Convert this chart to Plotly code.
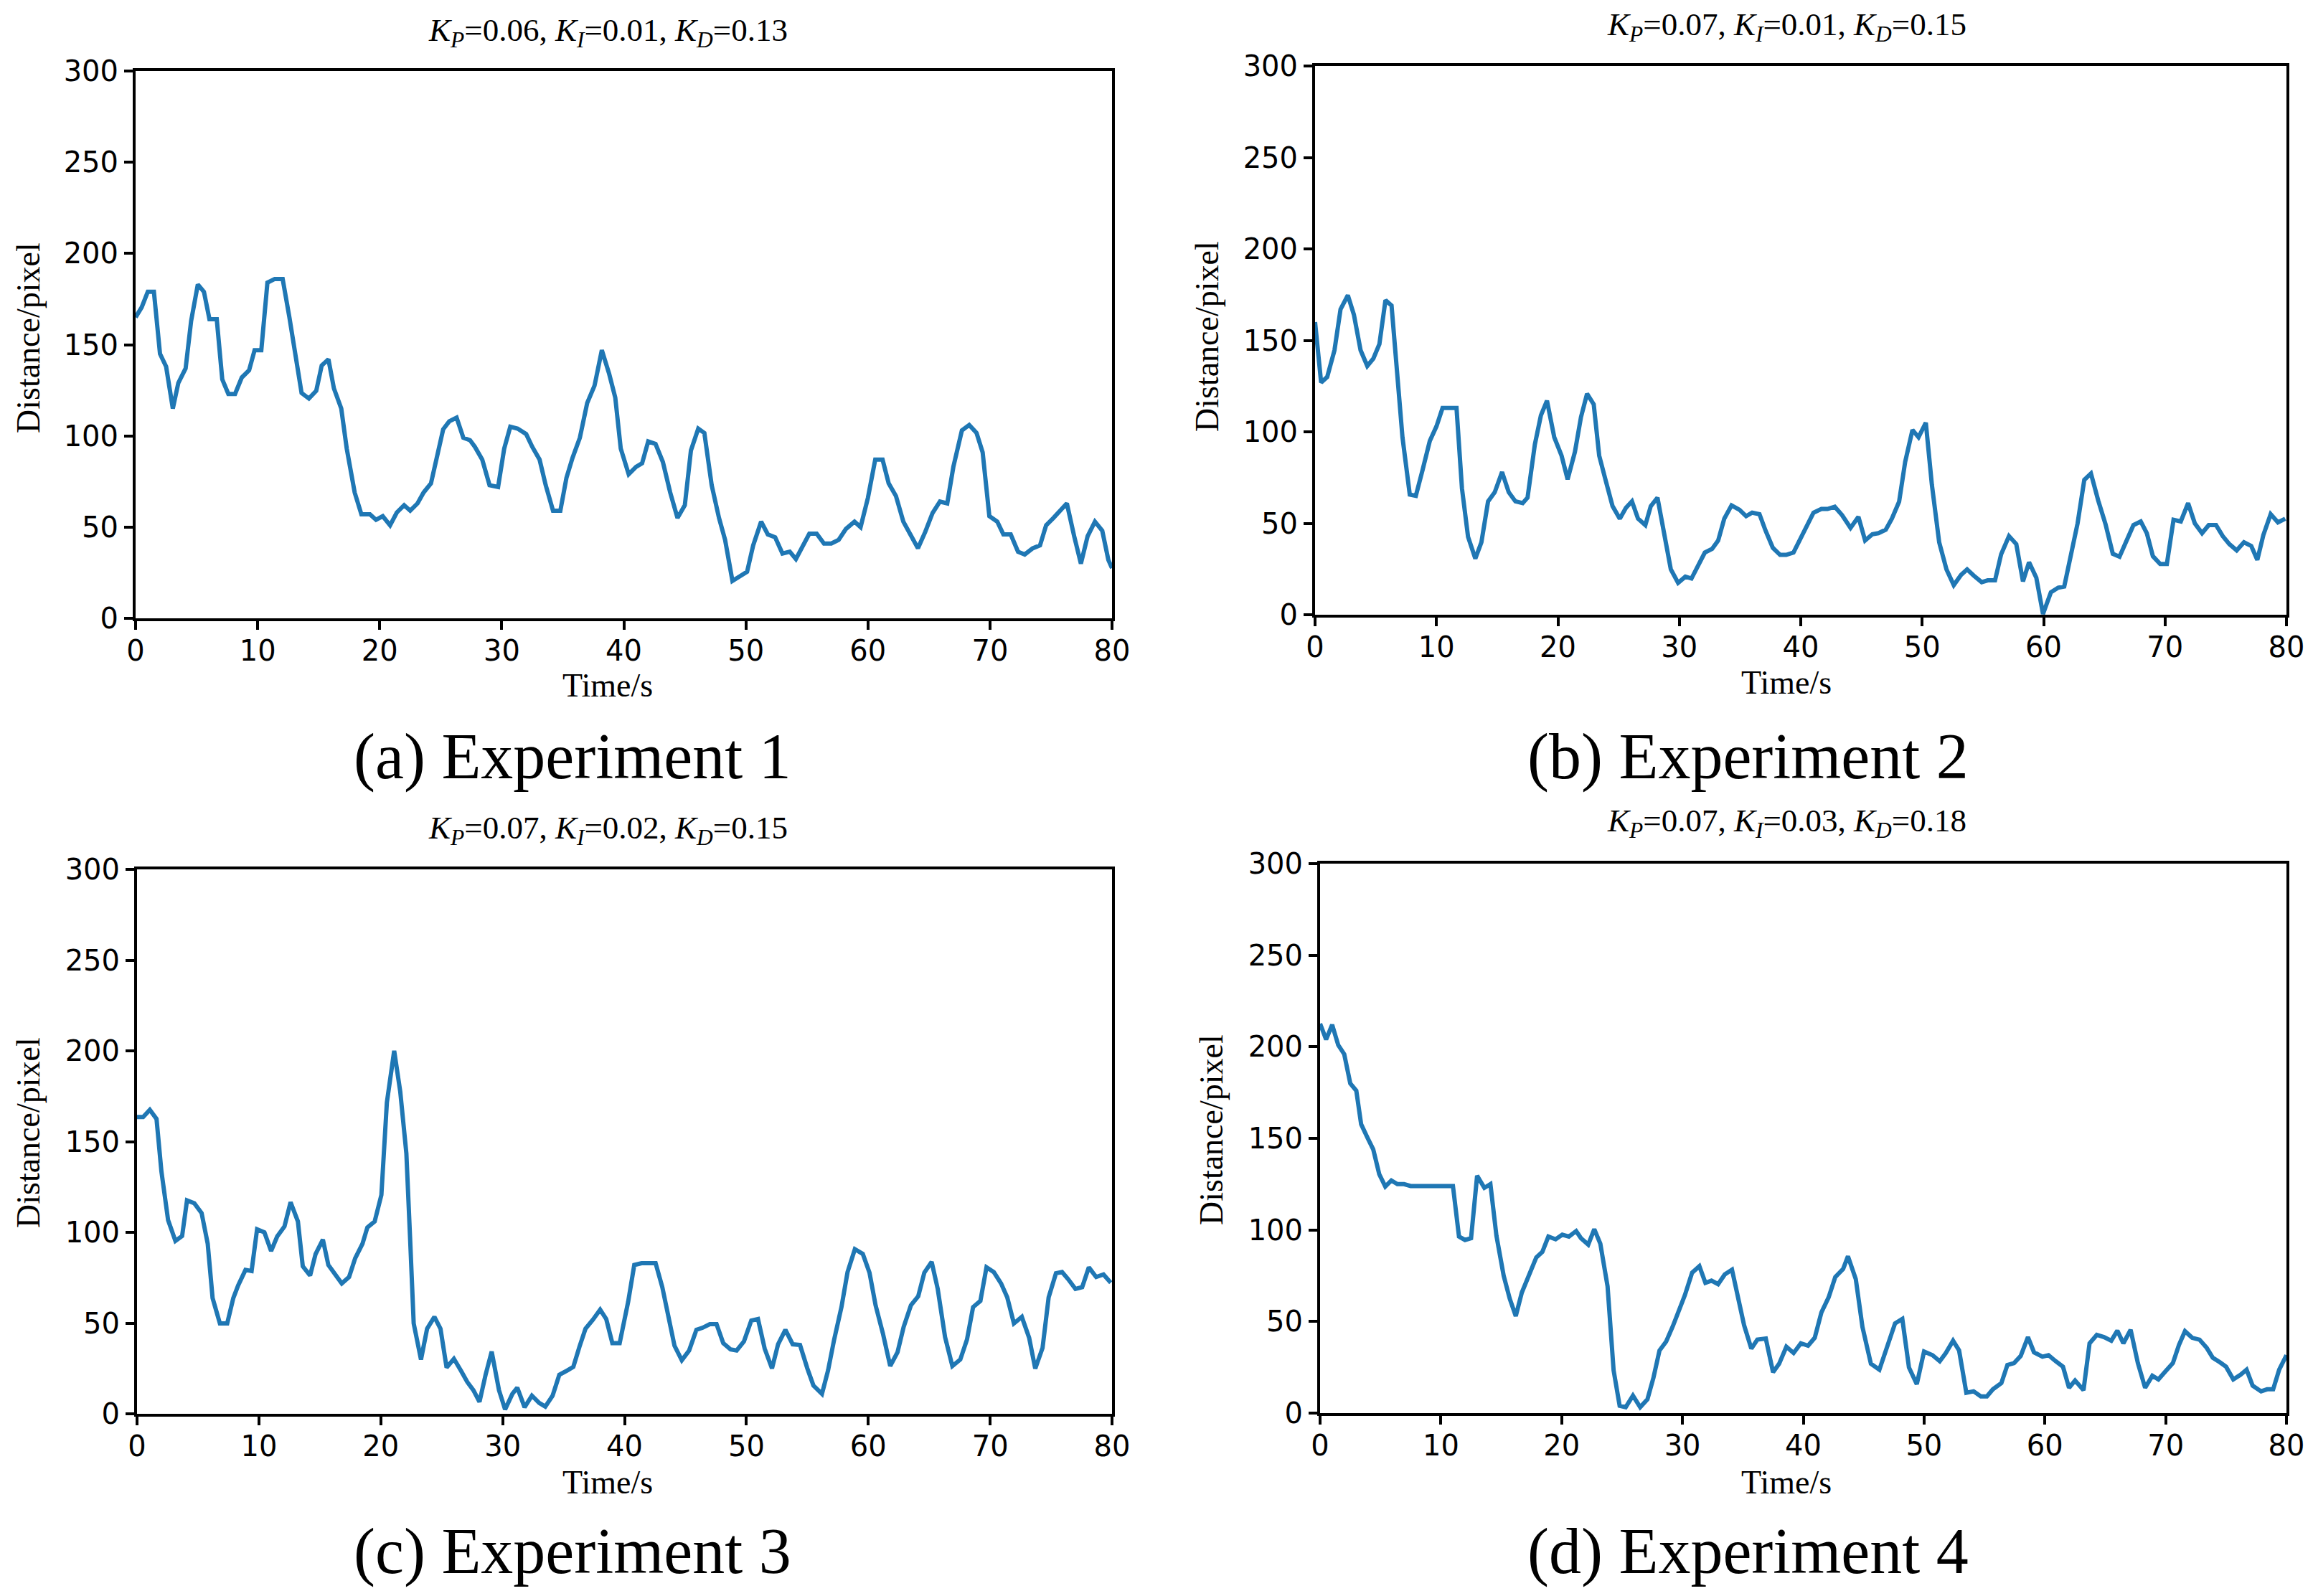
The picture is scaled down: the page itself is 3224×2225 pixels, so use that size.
import plotly.graph_objects as go

# Experiment 1: K_P=0.06, K_I=0.01, K_D=0.13
time_1 = [0, 0.5, 1.0, 1.5, 2.0, 2.5, 3.05, 3.5, 4.1, 4.55, 5.1, 5.6, 6.05, 6.65, 7.1, 7.6, 8.15, 8.7,
          9.3, 9.75, 10.3, 10.8, 11.4, 12.05, 12.6, 13.05, 13.6, 14.2, 14.8, 15.25, 15.8, 16.25, 16.85,
          17.3, 17.95, 18.5, 19.2, 19.7, 20.25, 20.85, 21.4, 22.0, 22.5, 23.1, 23.6, 24.2, 24.6, 25.2,
          25.7, 26.3, 26.85, 27.4, 27.8, 28.4, 29.0, 29.7, 30.2, 30.7, 31.3, 32.0, 32.5, 33.1, 33.6,
          34.2, 34.8, 35.3, 35.8, 36.4, 37.0, 37.6, 38.2, 38.8, 39.3, 39.75, 40.4, 41.0, 41.5, 42.0,
          42.6, 43.2, 43.8, 44.4, 45.0, 45.5, 46.1, 46.6, 47.2, 47.8, 48.3, 48.9, 49.5, 50.1, 50.6,
          51.25, 51.8, 52.4, 53.0, 53.6, 54.1, 54.6, 55.2, 55.8, 56.4, 57.0, 57.6, 58.2, 58.9, 59.4,
          60.0, 60.6, 61.2, 61.7, 62.3, 62.9, 63.5, 64.1, 64.7, 65.3, 65.9, 66.5, 67.0, 67.7, 68.3,
          68.9, 69.4, 69.95, 70.6, 71.1, 71.7, 72.3, 72.85, 73.5, 74.1, 74.6, 75.2, 75.8, 76.3, 76.9,
          77.45, 78.0, 78.6, 79.2, 79.7, 80.0]
dist_1 = [165, 170.5, 179, 179, 145, 138, 115, 129, 137, 163, 183, 179, 164, 164, 131, 123, 123, 132,
          136, 147, 147, 184, 186, 186, 165, 145, 123.5, 120.5, 124.7, 138.6, 142, 126, 115,
          93, 69, 57, 57, 54, 56, 51, 58, 62, 59, 63, 69, 74, 87, 103.6,
          108, 110, 99, 97.6, 94, 87, 73, 72, 93, 105, 104, 101, 94, 87, 73,
          59, 59, 77, 88, 99, 118, 127.5, 147, 134, 121, 93, 79, 83, 85, 97,
          95.6, 85.7, 69, 55, 62, 92, 104, 101.6, 73, 55, 43, 20.5, 23, 25.5, 40,
          53, 46, 44.4, 35.5, 36.5, 32.5, 39, 46.4, 46.4, 41, 41, 43, 49, 53, 50,
          66, 87, 87, 74, 67, 53, 46, 38.4, 47.4, 57.8, 64, 63, 83, 103, 106,
          101.6, 91, 56, 53, 46, 46, 36.5, 35, 38.4, 40, 51, 55, 59, 63, 45,
          30, 45, 53, 48, 32, 27.5]

# Experiment 2: K_P=0.07, K_I=0.01, K_D=0.15
time_2 = [0, 0.5, 1.0, 1.6, 2.1, 2.7, 3.2, 3.75, 4.3, 4.8, 5.3, 5.8, 6.3, 6.8, 7.2, 7.8, 8.3, 8.85,
          9.45, 10.0, 10.5, 11.1, 11.65, 12.1, 12.6, 13.2, 13.7, 14.25, 14.8, 15.4, 15.95, 16.5, 17.1,
          17.5, 18.1, 18.6, 19.1, 19.7, 20.3, 20.8, 21.4, 21.9, 22.4, 22.95, 23.4, 23.95, 24.5, 25.1,
          25.6, 26.1, 26.6, 27.2, 27.65, 28.2, 28.8, 29.3, 29.9, 30.5, 31.0, 31.5, 32.1, 32.7, 33.2,
          33.7, 34.3, 34.95, 35.5, 36.0, 36.6, 37.1, 37.7, 38.3, 38.8, 39.4, 40.0, 40.5, 41.05, 41.7,
          42.2, 42.8, 43.4, 44.1, 44.75, 45.3, 45.9, 46.4, 47.0, 47.5, 48.1, 48.6, 49.2, 49.7, 50.3,
          50.8, 51.4, 52.0, 52.6, 53.2, 53.7, 54.25, 54.9, 55.4, 56.0, 56.5, 57.15, 57.75, 58.3, 58.8,
          59.4, 59.95, 60.6, 61.2, 61.7, 62.25, 62.8, 63.35, 63.9, 64.5, 65.1, 65.7, 66.25, 66.8, 67.4,
          68.0, 68.5, 69.0, 69.6, 70.15, 70.7, 71.3, 71.9, 72.45, 73.05, 73.6, 74.2, 74.75, 75.3, 75.9,
          76.5, 77.1, 77.6, 78.1, 78.7, 79.3, 79.9]
dist_2 = [160, 127, 130, 144.6, 167, 174.7, 164, 144.6, 136, 140, 148, 172, 169, 130.7, 97, 65.7, 65, 79,
          95, 103, 113, 113, 113, 69, 42.6, 30.7, 39.6, 62, 67, 78, 67, 62, 61,
          64, 93, 109, 117, 97, 87, 74, 89, 108, 120.8, 115, 87, 73, 59.4, 52.5,
          58.4, 62, 52.5, 49, 59.4, 64, 41.6, 24.8, 17.4, 20.8, 19.8, 26.7, 34, 36, 40.6,
          52.5, 59.8, 57.4, 53.9, 55.8, 55, 46, 36.6, 32.7, 32.7, 34, 42, 49, 55.8, 57.8,
          57.8, 59, 54.5, 47.5, 53.5, 40.6, 44, 44.6, 46.5, 52.5, 61.8, 83.6, 101, 97, 105,
          71, 39.6, 24.8, 16.2, 21.8, 24.8, 21.4, 17.8, 18.8, 18.8, 33, 43, 38.6, 18.2, 28.7,
          20.2, 0.4, 12.3, 14.8, 15.4, 32.7, 50, 73.7, 77.2, 62.4, 49.5, 33.3, 31.7, 40, 49,
          51, 44.6, 32, 27.7, 27.7, 51.9, 51, 61, 50, 44.6, 49, 49, 43, 38.6, 35.2,
          39.6, 37.6, 30, 43.6, 55, 50.5, 52.5]

# Experiment 3: K_P=0.07, K_I=0.02, K_D=0.15
time_3 = [0, 0.5, 1.05, 1.6, 2.0, 2.55, 3.15, 3.7, 4.1, 4.7, 5.3, 5.8, 6.2, 6.8, 7.4, 7.9, 8.3, 8.9,
          9.4, 9.85, 10.45, 11.0, 11.5, 12.1, 12.6, 13.2, 13.6, 14.2, 14.65, 15.25, 15.7, 16.3, 16.8,
          17.4, 17.9, 18.5, 18.9, 19.5, 20.05, 20.5, 21.1, 21.6, 22.1, 22.4, 22.7, 23.3, 23.8, 24.4,
          24.9, 25.4, 26.0, 26.6, 27.1, 27.6, 28.1, 28.6, 29.1, 29.7, 30.2, 30.8, 31.2, 31.8, 32.4,
          33.0, 33.5, 34.1, 34.65, 35.3, 35.8, 36.3, 36.8, 37.4, 38.0, 38.5, 39.0, 39.6, 40.3, 40.8,
          41.4, 42.0, 42.55, 43.1, 43.6, 44.1, 44.7, 45.3, 45.9, 46.4, 47.0, 47.55, 48.1, 48.7, 49.2,
          49.8, 50.4, 50.95, 51.5, 52.1, 52.6, 53.2, 53.8, 54.4, 55.0, 55.5, 56.2, 56.7, 57.2, 57.8,
          58.3, 58.9, 59.55, 60.1, 60.6, 61.2, 61.8, 62.4, 62.9, 63.5, 64.1, 64.6, 65.2, 65.7, 66.3,
          66.9, 67.55, 68.1, 68.6, 69.2, 69.7, 70.3, 70.9, 71.4, 71.95, 72.6, 73.2, 73.7, 74.3, 74.8,
          75.4, 75.9, 76.4, 77.0, 77.55, 78.1, 78.7, 79.3, 79.9]
dist_3 = [163.5, 163.5, 167.5, 162.5, 133.6, 106.7, 95.3, 98, 117.6, 116, 110.6, 93.7, 63.8, 49.8, 49.8, 63.8, 70.8, 79.3,
          78.7, 101.7, 100, 89.7, 97.7, 103.3, 116.6, 106, 81.3, 76.2, 88, 96, 82, 76.8, 71.8,
          75.4, 85.7, 93.7, 102.7, 106, 120.6, 171.5, 200, 177.4, 143.5, 97.7, 49.8, 29.9, 46.9, 53.4,
          46.9, 25.5, 30.3, 23.5, 17.5, 13, 6.6, 21.5, 34.3, 13, 2.4, 11, 14.4, 3.6, 10,
          6, 4, 10, 21.5, 23.9, 25.9, 36.9, 46.9, 51.8, 57.4, 52.2, 38.9, 38.9, 61.8, 82,
          83, 83, 83, 69.8, 54.2, 37.5, 29.5, 34.9, 46.3, 47.4, 49.4, 49.4, 38.9, 35.5, 34.9,
          39.9, 51.4, 52.2, 35.9, 25, 38.3, 46.3, 38.3, 37.9, 25, 15.6, 11, 23.9, 40.9, 58.8,
          78.1, 90.7, 88.1, 77.8, 59.8, 44.3, 26.3, 33.9, 47.8, 59.8, 64.8, 77.8, 83.7, 68.8, 42.3,
          26.3, 29.9, 40.9, 58.8, 62.2, 80.7, 78.1, 71.8, 64.2, 49.8, 53.4, 41.9, 24.9, 36.3, 64.2,
          77.4, 78.1, 74.2, 68.8, 69.8, 80.7, 75.4, 76.8, 72.2]

# Experiment 4: K_P=0.07, K_I=0.03, K_D=0.18
time_4 = [0, 0.5, 1.0, 1.5, 2.0, 2.5, 3.0, 3.4, 3.95, 4.4, 4.9, 5.4, 5.9, 6.4, 6.95, 7.5, 8.1, 8.6,
          9.1, 9.6, 10.1, 10.6, 11.0, 11.5, 12.0, 12.5, 13.0, 13.6, 14.1, 14.6, 15.2, 15.7, 16.2,
          16.7, 17.35, 17.9, 18.4, 18.9, 19.5, 20.05, 20.6, 21.2, 21.6, 22.2, 22.7, 23.2, 23.8, 24.3,
          24.8, 25.3, 25.9, 26.5, 27.1, 27.6, 28.1, 28.65, 29.2, 29.7, 30.2, 30.8, 31.4, 31.9, 32.4,
          32.95, 33.5, 34.1, 34.6, 35.1, 35.7, 36.2, 36.9, 37.5, 38.0, 38.6, 39.2, 39.8, 40.4, 40.95,
          41.5, 42.1, 42.65, 43.3, 43.7, 44.35, 44.9, 45.6, 46.3, 46.9, 47.6, 48.2, 48.75, 49.4, 50.0,
          50.7, 51.3, 51.8, 52.4, 52.9, 53.5, 54.1, 54.7, 55.2, 55.7, 56.4, 56.9, 57.45, 58.0, 58.6,
          59.1, 59.8, 60.3, 60.9, 61.5, 62.0, 62.5, 63.2, 63.7, 64.3, 64.9, 65.5, 66.0, 66.5, 67.1,
          67.7, 68.3, 68.9, 69.4, 70.0, 70.6, 71.1, 71.6, 72.2, 72.8, 73.4, 73.9, 74.5, 75.0, 75.6,
          76.2, 76.7, 77.2, 77.9, 78.4, 78.9, 79.4, 80.0]
dist_4 = [212.6, 204, 212, 201, 196, 180, 176, 157.7, 150, 144, 130.4, 123.7, 127, 125, 125, 124, 124, 124,
          124, 124, 124, 124, 124, 96.4, 94.5, 95.5, 129.6, 123, 125, 96.8, 75, 62.5, 53,
          65.8, 77, 85, 88, 96.4, 94.9, 97.4, 96.4, 99.4, 95.5, 92, 100.4, 92.5, 69.2, 23.3,
          4, 3.2, 9.5, 3.2, 7.5, 19.4, 34.2, 39.1, 47.4, 55.3, 64.4, 76.7, 80.2, 71.1, 72.3,
          70.4, 75.7, 78.3, 62.8, 48, 35.2, 40.1, 40.7, 22.3, 26.9, 36.2, 32.8, 38.1, 36.8, 41.1,
          54.9, 63.2, 74.3, 78.7, 85.6, 73.1, 47, 26.9, 23.7, 36.2, 49, 51.4, 24.9, 15.8, 33.6,
          31.6, 28.3, 32.8, 39.5, 34.2, 11.1, 11.9, 9.1, 9.1, 13, 16.4, 26.3, 27.3, 31.2, 41.5,
          33.2, 30.8, 31.6, 28.3, 25.3, 13.8, 17.8, 12.5, 38.1, 42.7, 41.5, 39.5, 45, 38.1, 45.5,
          27.3, 13.8, 20.4, 18.4, 22.9, 27.3, 37.2, 44.7, 41.1, 40.1, 35.6, 30.2, 27.7, 25.3, 18.4,
          20.9, 23.7, 15, 11.9, 13, 13, 23.7, 31.6]

gains = [("0.06", "0.01", "0.13"), ("0.07", "0.01", "0.15"),
         ("0.07", "0.02", "0.15"), ("0.07", "0.03", "0.18")]
captions = ["(a) Experiment 1", "(b) Experiment 2", "(c) Experiment 3", "(d) Experiment 4"]
x_ticks = [0, 10, 20, 30, 40, 50, 60, 70, 80]
y_ticks = [0, 50, 100, 150, 200, 250, 300]

W, H = 3224, 2225
PAD = 8  # the page body margin shifts the whole figure by this much
# plot boxes in pixels: left, right, top, bottom
boxes = [(189, 1550, 99, 862), (1833, 3187, 92, 857),
         (191, 1550, 1212, 1971), (1840, 3187, 1204, 1970)]
# centres of title / xlabel / ylabel / caption (pixels)
title_pos = [(847, 45), (2490, 37), (847, 1157), (2490, 1147)]
xlabel_pos = [(847, 956), (2490, 952), (847, 2066), (2490, 2066)]
ylabel_pos = [(39, 471), (1682, 469), (39, 1579), (1688, 1575)]
caption_pos = [(798, 1055), (2436, 1055), (798, 2163), (2436, 2163)]

SERIF = "Liberation Serif, Times New Roman, serif"
SANS = "DejaVu Sans, sans-serif"

series = [(time_1, dist_1), (time_2, dist_2), (time_3, dist_3), (time_4, dist_4)]

fig = go.Figure()
layout = dict(width=W, height=H, margin=dict(l=0, r=0, t=0, b=0, autoexpand=False),
              paper_bgcolor="white", plot_bgcolor="white", showlegend=False)
annotations = []


def fx(x):
    return (x - PAD) / W


def fy(y):
    return 1 - (y - PAD) / H


def label(pos, text, size, angle=0):
    return dict(x=fx(pos[0]), y=fy(pos[1]), xref="paper", yref="paper",
                xanchor="center", yanchor="middle", showarrow=False, text=text,
                textangle=angle, font=dict(family=SERIF, size=size, color="black"))


for i, (t, d) in enumerate(series):
    n = "" if i == 0 else str(i + 1)
    fig.add_trace(go.Scatter(x=t, y=d, mode="lines", xaxis="x" + n, yaxis="y" + n,
                             line=dict(color="#1f77b4", width=6)))
    l, r, top, b = boxes[i]
    axis_common = dict(showgrid=False, zeroline=False, showline=True, linecolor="black",
                       linewidth=4, mirror=True, ticks="outside", ticklen=12, tickwidth=4,
                       tickcolor="black", automargin=False,
                       tickfont=dict(family=SANS, size=40, color="black"))
    layout["xaxis" + n] = dict(domain=[fx(l), fx(r)], anchor="y" + n, range=[0, 80],
                               tickvals=x_ticks, ticklabelstandoff=-5, **axis_common)
    layout["yaxis" + n] = dict(domain=[fy(b), fy(top)], anchor="x" + n, range=[0, 300],
                               tickvals=y_ticks, **axis_common)

    kp, ki, kd = gains[i]
    title = (f"<i>K</i><sub><i>P</i></sub>={kp}, <i>K</i><sub><i>I</i></sub>={ki}, "
             f"<i>K</i><sub><i>D</i></sub>={kd}")
    annotations.append(label(title_pos[i], title, 45))
    annotations.append(label(xlabel_pos[i], "Time/s", 46))
    annotations.append(label(ylabel_pos[i], "Distance/pixel", 46, angle=-90))
    annotations.append(label(caption_pos[i], captions[i], 90))

layout["annotations"] = annotations
fig.update_layout(**layout)

fig.write_html("out.html")
